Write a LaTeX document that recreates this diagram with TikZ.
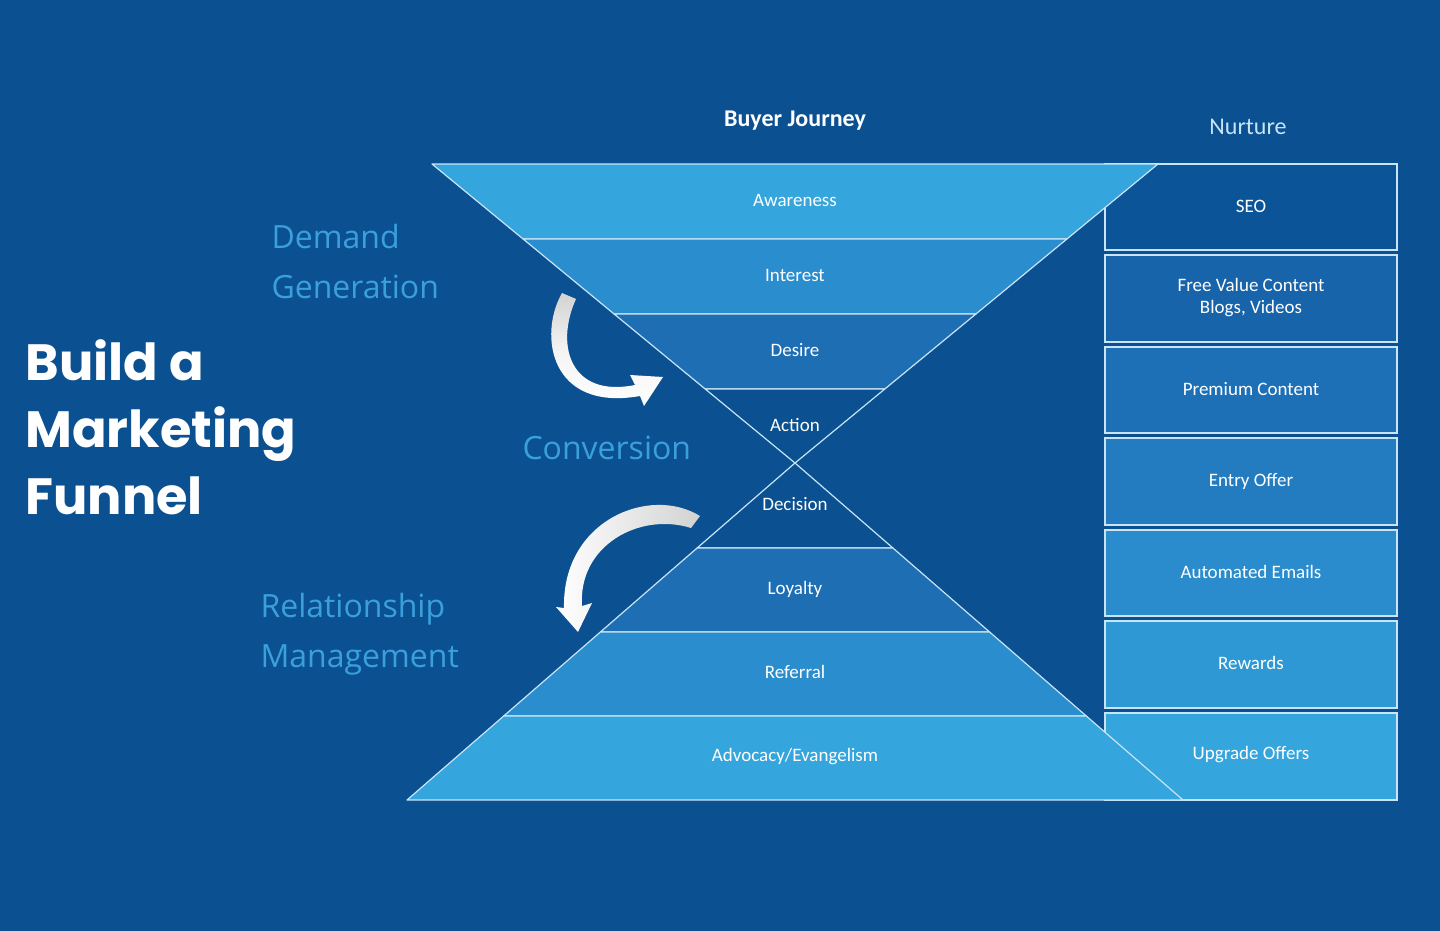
\documentclass[tikz,border=0pt]{standalone}
\usepackage{fontspec}
\setmainfont{Carlito}
\newfontfamily\titlefont{Poppins}
\newfontfamily\sidefont{Open Sans}
\usetikzlibrary{shadings}
\definecolor{bg}{RGB}{11,80,145}
\definecolor{cA}{RGB}{52,165,221}
\definecolor{cB}{RGB}{42,141,205}
\definecolor{cC}{RGB}{30,110,180}
\definecolor{bx1}{RGB}{12,84,152}
\definecolor{bx2}{RGB}{24,100,170}
\definecolor{bx3}{RGB}{30,112,182}
\definecolor{bx4}{RGB}{36,124,192}
\definecolor{bx5}{RGB}{42,140,205}
\definecolor{bx6}{RGB}{46,152,212}
\definecolor{bx7}{RGB}{52,165,221}
\definecolor{edge}{RGB}{200,228,246}
\definecolor{side}{RGB}{58,160,220}
\begin{document}
\begin{tikzpicture}[x=1pt,y=-1pt,
  band/.style={draw=edge,line width=1.2pt,line join=round},
  lab/.style={text=white,font=\fontsize{19}{22}\selectfont},
  box/.style={draw=edge,line width=1.5pt},
  sidelab/.style={text=side,font=\sidefont\fontsize{32}{50}\selectfont,align=left,anchor=west}]
\fill[bg] (0,0) rectangle (1440,931);
\useasboundingbox (0,0) rectangle (1440,931);
% boxes
\foreach \t/\b/\c [count=\i] in {164/250/bx1,255/342/bx2,347/433/bx3,438/525/bx4,530/616/bx5,621/708/bx6,713/800/bx7}
  \draw[box,fill=\c] (1105,\t) rectangle (1397,\b);
% funnel top
\draw[band,fill=cA] (432,164) -- (1158,164) -- (1066.9,239) -- (523.1,239) -- cycle;
\draw[band,fill=cB] (523.1,239) -- (1066.9,239) -- (975.9,314) -- (614.1,314) -- cycle;
\draw[band,fill=cC] (614.1,314) -- (975.9,314) -- (884.8,389) -- (705.2,389) -- cycle;
\draw[band,fill=bg] (705.2,389) -- (884.8,389) -- (795,463) -- cycle;
% funnel bottom
\draw[band,fill=bg] (795,463) -- (892.9,548) -- (697.1,548) -- cycle;
\draw[band,fill=cC] (697.1,548) -- (892.9,548) -- (989.6,632) -- (600.4,632) -- cycle;
\draw[band,fill=cB] (600.4,632) -- (989.6,632) -- (1086.3,716) -- (503.7,716) -- cycle;
\draw[band,fill=cA] (503.7,716) -- (1086.3,716) -- (1183,800) -- (407,800) -- cycle;
% funnel labels
\node[lab] (aw) at (795,200) {Awareness};
\node[lab] (in) at (795,275) {Interest};
\node[lab] (de) at (795,350) {Desire};
\node[lab] (ac) at (795,425) {Action};
\node[lab] (dc) at (795,504) {Decision};
\node[lab] (lo) at (795,589) {Loyalty};
\node[lab] (re) at (795,672) {Referral};
\node[lab] (ad) at (795,757) {Advocacy/Evangelism};
% box labels
\node[lab] (seo) at (1251,206) {SEO};
\node[lab,align=center] (fv) at (1251,298) {Free Value Content\\Blogs, Videos};
\node[lab] (pc) at (1251,389) {Premium Content};
\node[lab] (eo) at (1251,481) {Entry Offer};
\node[lab] (ae) at (1251,572) {Automated Emails};
\node[lab] (rw) at (1251,663) {Rewards};
\node[lab] (uo) at (1251,755) {Upgrade Offers};
% headers
\node[text=white,font=\bfseries\fontsize{24}{28}\selectfont] (bj) at (795,121) {Buyer Journey};
\node[text=edge,font=\fontsize{24}{28}\selectfont] (nu) at (1248,127) {Nurture};
% side labels
\node[sidelab] (dg) at (268,261) {Demand\\Generation};
\node[sidelab] (cv) at (519,448) {Conversion};
\node[sidelab] (rm) at (257,634) {Relationship\\Management};
\node[text=white,anchor=west,align=left,font=\titlefont\bfseries\fontsize{51}{67}\selectfont] (ti) at (22,427) {Build a\\Marketing\\Funnel};
% arrows
\shade[top color=gray!35,bottom color=white,middle color=white!92!gray]
  (562,293) .. controls (538,335) and (550,412) .. (640,396) -- (644,406) -- (663,377) -- (630,375) -- (635,385)
  .. controls (570,398) and (555,345) .. (576,299) -- cycle;
\shade[right color=gray!35,left color=white]
  (700,516) .. controls (650,485) and (562,520) .. (564,608) -- (556,607) -- (578,632) -- (592,603) -- (582,606)
  .. controls (578,545) and (640,512) .. (691,528) -- cycle;
\end{tikzpicture}
\end{document}
